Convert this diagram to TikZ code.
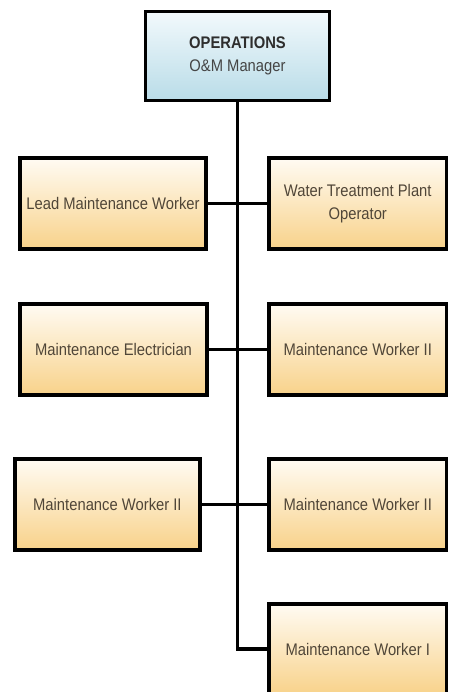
\documentclass[tikz,border=0pt]{standalone}
\usepackage{fontspec}
\setmainfont{Liberation Sans}[FakeStretch=0.88]
\usetikzlibrary{shadows}

\definecolor{roleTop}{HTML}{FFFBF3}
\definecolor{roleBottom}{HTML}{F8D28A}
\definecolor{headTop}{HTML}{F2F9FC}
\definecolor{headBottom}{HTML}{B9DCE8}
\definecolor{roleText}{HTML}{504638}
\definecolor{headText}{HTML}{2E2E2E}

\tikzset{
  box/.style={draw=black, line width=3.7pt, rectangle, inner sep=0pt,
    align=center, font=\fontsize{16.8}{23.3}\selectfont,
    drop shadow={shadow xshift=1.5pt, shadow yshift=-2pt, opacity=0.2, fill=black}},
  rolebox/.style={box, top color=roleTop, bottom color=roleBottom,
    text=roleText, minimum height=91pt},
  headbox/.style={box, top color=headTop, bottom color=headBottom,
    text=headText},
  link/.style={draw=black, line width=3.7pt}
}

\begin{document}
\begin{tikzpicture}[x=1pt, y=-1pt]
  \useasboundingbox (0,0) rectangle (448,692);
  \clip (0,0) rectangle (448,692);

  % head of the section
  \node[headbox, minimum width=184pt, minimum height=89pt] (head) at (237.5,56)
    {\textbf{OPERATIONS}\\\color[HTML]{454545}O\&M Manager};

  % left column
  \node[rolebox, minimum width=186pt] (l1) at (113,203.5) {Lead Maintenance Worker};
  \node[rolebox, minimum width=187pt] (l2) at (113.5,349.5) {Maintenance Electrician};
  \node[rolebox, minimum width=185pt] (l3) at (107.4,504.5) {Maintenance Worker II};

  % right column
  \node[rolebox, minimum width=177.5pt] (r1) at (357.75,203.5) {Water Treatment Plant\\Operator};
  \node[rolebox, minimum width=177.5pt] (r2) at (357.75,349.5) {Maintenance Worker II};
  \node[rolebox, minimum width=177.5pt] (r3) at (357.75,504.5) {Maintenance Worker II};
  \node[rolebox, minimum width=177.5pt] (r4) at (357.75,649.2) {Maintenance Worker I};

  % spine and branches
  \draw[link] (head.south) |- (r4.west);
  \draw[link] (l1.east) -- (r1.west);
  \draw[link] (l2.east) -- (r2.west);
  \draw[link] (l3.east) -- (r3.west);
\end{tikzpicture}
\end{document}
